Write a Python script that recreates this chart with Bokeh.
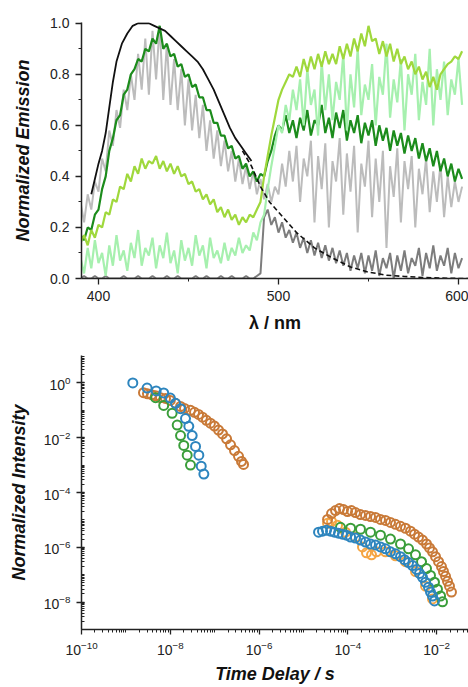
from bokeh.plotting import figure
from bokeh.layouts import column
from bokeh.models import FixedTicker, Range1d, PrintfTickFormatter, Title
from bokeh.embed import file_html
from bokeh.resources import INLINE

FONT = "Liberation Sans"

# ---------------- top panel: emission spectra ----------------
wavelength = list(range(390, 603, 2))

light_gray = [
    0.30, 0.22, 0.33, 0.27, 0.38, 0.34, 0.47, 0.42, 0.58, 0.52,
    0.66, 0.59, 0.74, 0.66, 0.80, 0.70, 0.88, 0.74, 0.94, 0.72,
    0.97, 0.78, 0.99, 0.70, 0.92, 0.68, 0.86, 0.66, 0.82, 0.60,
    0.78, 0.58, 0.72, 0.55, 0.68, 0.50, 0.62, 0.47, 0.58, 0.44,
    0.54, 0.42, 0.50, 0.38, 0.47, 0.37, 0.44, 0.35, 0.42, 0.33,
    0.39, 0.31, 0.37, 0.30, 0.36, 0.33, 0.45, 0.36, 0.50, 0.38,
    0.52, 0.30, 0.47, 0.40, 0.54, 0.22, 0.48, 0.35, 0.53, 0.20,
    0.46, 0.38, 0.55, 0.25, 0.49, 0.34, 0.52, 0.18, 0.45, 0.36,
    0.54, 0.24, 0.47, 0.30, 0.50, 0.12, 0.44, 0.32, 0.51, 0.22,
    0.46, 0.35, 0.48, 0.20, 0.43, 0.33, 0.47, 0.26, 0.42, 0.30,
    0.45, 0.24, 0.40, 0.28, 0.38, 0.30, 0.36,
]

dark_gray = [
    0.00, 0.01, 0.00, 0.00, 0.01, 0.00, 0.00, 0.01, 0.00, 0.00,
    0.00, 0.00, 0.01, 0.00, 0.00, 0.00, 0.01, 0.00, 0.00, 0.00,
    0.01, 0.00, 0.00, 0.00, 0.01, 0.00, 0.00, 0.01, 0.00, 0.00,
    0.00, 0.00, 0.01, 0.00, 0.00, 0.01, 0.00, 0.00, 0.00, 0.01,
    0.00, 0.00, 0.01, 0.00, 0.00, 0.00, 0.01, 0.00, 0.00, 0.01,
    0.02, 0.24, 0.27, 0.21, 0.24, 0.18, 0.22, 0.16, 0.19, 0.14,
    0.18, 0.12, 0.16, 0.10, 0.15, 0.09, 0.14, 0.08, 0.13, 0.07,
    0.12, 0.06, 0.11, 0.05, 0.10, 0.03, 0.09, 0.04, 0.10, 0.02,
    0.09, 0.03, 0.11, 0.01, 0.08, 0.04, 0.10, 0.00, 0.09, 0.03,
    0.11, 0.02, 0.08, 0.05, 0.12, 0.01, 0.10, 0.04, 0.13, 0.03,
    0.09, 0.05, 0.12, 0.02, 0.10, 0.04, 0.08,
]

dark_green = [
    0.17, 0.15, 0.20, 0.19, 0.25, 0.27, 0.35, 0.40, 0.50, 0.55,
    0.62, 0.64, 0.72, 0.74, 0.80, 0.82, 0.86, 0.85, 0.90, 0.89,
    0.94, 0.92, 0.99, 0.90, 0.92, 0.87, 0.88, 0.83, 0.84, 0.79,
    0.80, 0.75, 0.76, 0.71, 0.71, 0.66, 0.66, 0.61, 0.61, 0.56,
    0.56, 0.51, 0.52, 0.47, 0.48, 0.43, 0.45, 0.40, 0.42, 0.38,
    0.41, 0.40, 0.46, 0.50, 0.56, 0.60, 0.58, 0.64, 0.57, 0.62,
    0.55, 0.63, 0.58, 0.66, 0.56, 0.62, 0.60, 0.68, 0.57, 0.63,
    0.55, 0.65, 0.59, 0.66, 0.54, 0.62, 0.57, 0.64, 0.53, 0.61,
    0.56, 0.62, 0.52, 0.60, 0.54, 0.59, 0.50, 0.58, 0.52, 0.57,
    0.49, 0.56, 0.50, 0.55, 0.47, 0.53, 0.46, 0.51, 0.44, 0.50,
    0.42, 0.47, 0.40, 0.45, 0.38, 0.43, 0.39,
]

pale_green = [
    0.08, 0.02, 0.12, 0.04, 0.15, 0.06, 0.10, 0.01, 0.13, 0.05,
    0.17, 0.07, 0.11, 0.03, 0.14, 0.08, 0.19, 0.05, 0.12, 0.09,
    0.16, 0.04, 0.13, 0.08, 0.18, 0.06, 0.11, 0.02, 0.15, 0.07,
    0.12, 0.05, 0.17, 0.09, 0.13, 0.04, 0.16, 0.08, 0.11, 0.06,
    0.14, 0.07, 0.12, 0.09, 0.16, 0.10, 0.13, 0.11, 0.18, 0.15,
    0.22, 0.25, 0.35, 0.44, 0.52, 0.60, 0.57, 0.68, 0.62, 0.74,
    0.66, 0.78, 0.60, 0.82, 0.68, 0.74, 0.56, 0.85, 0.66, 0.80,
    0.62, 0.77, 0.70, 0.88, 0.58, 0.80, 0.67, 0.90, 0.64, 0.76,
    0.70, 0.84, 0.60, 0.79, 0.72, 0.92, 0.63, 0.78, 0.69, 0.86,
    0.58, 0.80, 0.72, 0.88, 0.62, 0.77, 0.68, 0.90, 0.60, 0.82,
    0.70, 0.85, 0.64, 0.78, 0.72, 0.86, 0.68,
]

yellow_green = [
    0.14, 0.17, 0.13, 0.19, 0.16, 0.21, 0.20, 0.26, 0.25, 0.31,
    0.30, 0.36, 0.35, 0.41, 0.38, 0.44, 0.41, 0.47, 0.43, 0.46,
    0.45, 0.48, 0.43, 0.46, 0.42, 0.45, 0.41, 0.44, 0.40, 0.41,
    0.37, 0.38, 0.34, 0.35, 0.31, 0.33, 0.29, 0.31, 0.26, 0.28,
    0.24, 0.27, 0.23, 0.25, 0.21, 0.24, 0.22, 0.25, 0.24, 0.27,
    0.30, 0.40, 0.48, 0.56, 0.63, 0.70, 0.74, 0.77, 0.80, 0.79,
    0.83, 0.79, 0.86, 0.81, 0.87, 0.82, 0.88, 0.83, 0.89, 0.84,
    0.88, 0.84, 0.91, 0.86, 0.92, 0.87, 0.94, 0.89, 0.96, 0.91,
    0.99, 0.93, 0.94, 0.88, 0.93, 0.87, 0.92, 0.85, 0.90, 0.84,
    0.87, 0.82, 0.85, 0.80, 0.83, 0.78, 0.81, 0.75, 0.79, 0.74,
    0.80, 0.82, 0.84, 0.85, 0.87, 0.86, 0.89,
]

black_wl = [396, 398, 400, 402, 404, 406, 408, 410, 413, 416, 419, 422, 425,
            428, 431, 434, 437, 440, 443, 446, 449, 452, 455, 458, 461, 464,
            467, 470, 473, 476, 479, 482, 485]
black_em = [0.33, 0.39, 0.45, 0.50, 0.57, 0.67, 0.77, 0.85, 0.92, 0.96, 0.99,
            1.00, 1.00, 1.00, 0.99, 0.98, 0.97, 0.95, 0.93, 0.91, 0.89, 0.87,
            0.85, 0.82, 0.78, 0.74, 0.69, 0.64, 0.59, 0.55, 0.52, 0.49, 0.46]

fit_wl = [480, 485, 490, 495, 500, 505, 510, 515, 520, 525, 530, 540, 550,
          560, 570, 580, 590, 600, 606]
fit_em = [0.50, 0.44, 0.36, 0.30, 0.26, 0.22, 0.18, 0.15, 0.12, 0.10, 0.08,
          0.045, 0.025, 0.013, 0.008, 0.004, 0.002, 0.0, 0.0]

# ---------------- bottom panel: decays ----------------
light_orange_t = [3.48e-5, 4.28e-5, 5.84e-5, 8.83e-5, 1.48e-4, 2.13e-4, 2.62e-4,
                  3.4e-4, 4.41e-4, 7.03e-4, 1.18e-3, 1.98e-3, 3.33e-3, 5.6e-3, 8.04e-3]
light_orange_i = [7.5e-6, 8.8e-6, 6.35e-6, 3.56e-6, 2.36e-6, 1.03e-6, 6.3e-7,
                  5.34e-7, 6.84e-7, 6.84e-7, 4.92e-7, 3.0e-7, 1.31e-7, 3.81e-8, 1.3e-8]

orange_t = [2.49e-9, 3.06e-9, 3.78e-9, 4.65e-9, 6.0e-9, 7.8e-9, 1.0e-8, 1.31e-8,
            1.7e-8, 2.09e-8, 2.85e-8, 3.51e-8, 4.32e-8, 5.3e-8, 6.5e-8, 8.0e-8,
            9.9e-8, 1.22e-7, 1.5e-7, 1.85e-7, 2.27e-7, 2.79e-7, 3.44e-7, 4.02e-7,
            4.46e-7,
            3.48e-5, 4.28e-5, 5.26e-5, 6.47e-5, 7.96e-5, 9.8e-5, 1.2e-4, 1.48e-4,
            1.92e-4, 2.49e-4, 3.23e-4, 4.19e-4, 5.42e-4, 7.03e-4, 9.1e-4, 1.18e-3,
            1.53e-3, 1.98e-3, 2.57e-3, 3.16e-3, 3.89e-3, 4.79e-3, 5.89e-3, 6.89e-3,
            8.04e-3, 9.4e-3, 1.1e-2, 1.28e-2, 1.42e-2, 1.58e-2, 1.75e-2, 1.94e-2,
            2.15e-2]
orange_i = [0.44, 0.40, 0.37, 0.34, 0.29, 0.27, 0.23, 0.18, 0.138, 0.117, 0.10,
            0.084, 0.071, 0.056, 0.043, 0.034, 0.0265, 0.019, 0.0137, 0.0091,
            0.0055, 0.0034, 0.0021, 0.00136, 0.00106,
            1.04e-5, 1.71e-5, 2.19e-5, 2.58e-5, 2.38e-5, 2.02e-5, 2.19e-5, 1.86e-5,
            1.57e-5, 1.45e-5, 1.33e-5, 1.23e-5, 1.04e-5, 9.6e-6, 8.1e-6, 6.9e-6,
            5.85e-6, 4.96e-6, 3.87e-6, 3.02e-6, 2.36e-6, 1.84e-6, 1.32e-6, 9.5e-7,
            6.84e-7, 4.53e-7, 3.0e-7, 1.98e-7, 1.31e-7, 8.7e-8, 5.75e-8, 3.81e-8,
            2.32e-8]

green_t = [4.65e-9, 7.1e-9, 1.1e-8, 1.43e-8, 1.7e-8, 2.01e-8, 2.4e-8, 2.85e-8,
           6.8e-5, 1.15e-4, 1.92e-4, 3.23e-4, 5.42e-4, 9.1e-4, 1.53e-3, 2.32e-3,
           3.33e-3, 4.55e-3, 5.89e-3, 7.24e-3, 8.91e-3, 1.04e-2, 1.22e-2, 1.35e-2]
green_i = [0.29, 0.15, 0.078, 0.029, 0.012, 0.0052, 0.0023, 0.001,
           5.38e-6, 4.96e-6, 4.56e-6, 3.56e-6, 2.78e-6, 2.0e-6, 1.32e-6, 8.8e-7,
           5.34e-7, 3.0e-7, 1.68e-7, 9.4e-8, 5.3e-8, 2.97e-8, 1.67e-8, 1.02e-8]

blue_t = [1.43e-9, 3.0e-9, 4.8e-9, 7.1e-9, 1.0e-8, 1.31e-8, 1.7e-8, 2.2e-8,
          2.61e-8, 3.11e-8, 3.7e-8, 4.39e-8, 4.97e-8, 5.7e-8,
          2.18e-5, 2.68e-5, 3.3e-5, 4.06e-5, 4.99e-5, 6.14e-5, 7.55e-5, 9.29e-5,
          1.15e-4, 1.48e-4, 1.92e-4, 2.49e-4, 3.23e-4, 4.19e-4, 5.42e-4, 7.03e-4,
          9.1e-4, 1.18e-3, 1.53e-3, 1.88e-3, 2.32e-3, 2.85e-3, 3.51e-3, 4.1e-3,
          4.79e-3, 5.6e-3, 6.53e-3, 7.24e-3, 8.04e-3, 8.91e-3]
blue_i = [1.0, 0.65, 0.51, 0.43, 0.28, 0.18, 0.115, 0.05, 0.026, 0.012, 0.0048,
          0.0023, 0.00091, 0.00047,
          3.56e-6, 3.87e-6, 4.2e-6, 3.87e-6, 3.56e-6, 3.28e-6, 3.02e-6, 2.78e-6,
          2.36e-6, 2.17e-6, 1.84e-6, 1.56e-6, 1.32e-6, 1.22e-6, 1.03e-6, 8.8e-7,
          6.84e-7, 5.8e-7, 4.53e-7, 3.53e-7, 2.76e-7, 2.15e-7, 1.55e-7, 1.11e-7,
          8.0e-8, 5.3e-8, 3.5e-8, 2.32e-8, 1.67e-8, 1.1e-8]

top_x_ticks = [400, 500, 600]
top_y_ticks = [0.0, 0.2, 0.4, 0.6, 0.8, 1.0]
decay_y_ticks = [1e-8, 1e-6, 1e-4, 1e-2, 1e0]
decay_x_ticks = [1e-10, 1e-8, 1e-6, 1e-4, 1e-2]


def style_axis(ax, size):
    ax.axis_line_color = "#222222"
    ax.axis_line_width = 1.5
    ax.major_tick_line_color = "#222222"
    ax.minor_tick_line_color = "#222222"
    ax.major_tick_line_width = 1.3
    ax.minor_tick_line_width = 1.0
    ax.major_label_text_font = FONT
    ax.major_label_text_font_size = size
    ax.major_label_text_color = "#222222"
    ax.axis_label_text_font = FONT
    ax.axis_label_text_font_size = "18px"
    ax.axis_label_text_font_style = "bold italic"
    ax.axis_label_text_color = "#111111"


# ---- top figure ----
p1 = figure(width=468, height=340, x_range=Range1d(390.56, 605.56),
            y_range=Range1d(0.0, 1.003), output_backend="svg",
            toolbar_location=None, min_border_left=81, min_border_right=0,
            min_border_top=22, min_border_bottom=62)
p1.outline_line_color = None
p1.grid.visible = False
p1.background_fill_color = "white"

p1.line(wavelength, dark_gray, color="#7d7d7d", line_width=2)
p1.line(wavelength, light_gray, color="#bcbcbc", line_width=2)
p1.line(wavelength, dark_green, color="#1c8c1c", line_width=2.2)
p1.line(wavelength, pale_green, color="#a6f0ae", line_width=2.2)
p1.line(wavelength, yellow_green, color="#9fd83c", line_width=2.2)
p1.line(black_wl, black_em, color="#111111", line_width=1.8)
p1.line(fit_wl, fit_em, color="#111111", line_width=1.6, line_dash="5 3")

p1.xaxis.ticker = FixedTicker(ticks=top_x_ticks, minor_ticks=[450, 550])
p1.yaxis.ticker = FixedTicker(ticks=top_y_ticks,
                              minor_ticks=[0.1, 0.3, 0.5, 0.7, 0.9])
p1.yaxis.formatter = PrintfTickFormatter(format="%.1f")
for ax in (p1.xaxis[0], p1.yaxis[0]):
    style_axis(ax, "14px")
    ax.major_tick_in = 0
    ax.major_tick_out = 6
    ax.minor_tick_in = 0
    ax.minor_tick_out = 3
    ax.major_label_standoff = 6
p1.yaxis.axis_label = "Normalized Emission"
p1.yaxis.axis_label_standoff = 14

p1.add_layout(Title(text="λ / nm", align="center", offset=17, standoff=15,
                    text_font=FONT, text_font_size="18px",
                    text_font_style="bold", text_color="#111111"), "below")

# ---- bottom figure ----
p2 = figure(width=468, height=347, x_axis_type="log", y_axis_type="log",
            x_range=Range1d(1e-10, 10 ** -1.284), y_range=Range1d(1e-9, 1e1),
            output_backend="svg", toolbar_location=None, min_border_left=81,
            min_border_right=0, min_border_top=15, min_border_bottom=54)
p2.outline_line_color = None
p2.grid.visible = False

p2.scatter(light_orange_t, light_orange_i, marker="circle", size=9,
           fill_color=None, line_color="#f5a543", line_width=2)
p2.scatter(orange_t, orange_i, marker="circle", size=9, fill_color=None,
           line_color="#c97a38", line_width=2)
p2.scatter(green_t, green_i, marker="circle", size=9, fill_color=None,
           line_color="#3a9e3a", line_width=2)
p2.scatter(blue_t, blue_i, marker="circle", size=9, fill_color=None,
           line_color="#2d85be", line_width=2)

p2.yaxis.ticker = FixedTicker(
    ticks=decay_y_ticks,
    minor_ticks=[m * 10.0 ** k for k in range(-9, 1) for m in range(1, 10)])
p2.xaxis.ticker = FixedTicker(
    ticks=decay_x_ticks,
    minor_ticks=[m * 10.0 ** k for k in range(-10, -1) for m in range(1, 10)])
for ax in (p2.xaxis[0], p2.yaxis[0]):
    style_axis(ax, "14px")
    ax.major_label_standoff = 6
p2.yaxis.major_tick_in = 3
p2.yaxis.major_tick_out = 5
p2.yaxis.minor_tick_in = 3
p2.yaxis.minor_tick_out = 0
p2.xaxis.major_tick_in = 0
p2.xaxis.major_tick_out = 5
p2.xaxis.minor_tick_in = 0
p2.xaxis.minor_tick_out = 3
p2.yaxis.axis_label = "Normalized Intensity"
p2.yaxis.axis_label_standoff = 12

p2.add_layout(Title(text="Time Delay / s", align="center", offset=27,
                    standoff=8, text_font=FONT, text_font_size="18px",
                    text_font_style="bold italic", text_color="#111111"),
              "below")

layout = column(p1, p2, spacing=0)
open("out.html", "w").write(file_html(layout, INLINE))
